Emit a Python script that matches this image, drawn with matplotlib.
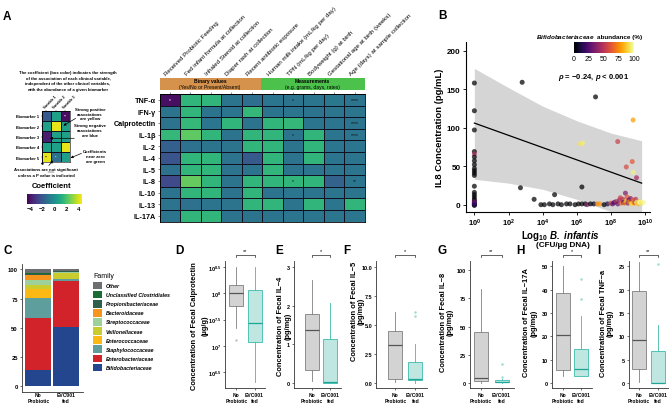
import numpy as np
import matplotlib
matplotlib.use('Agg')
import matplotlib.pyplot as plt
from matplotlib.colors import Normalize
from matplotlib.patches import Rectangle

plt.rcParams['font.family'] = ['Liberation Sans', 'DejaVu Sans']
plt.rcParams['mathtext.fontset'] = 'custom'
plt.rcParams['mathtext.rm'] = 'Liberation Sans'
plt.rcParams['mathtext.bf'] = 'Liberation Sans:bold'
plt.rcParams['mathtext.it'] = 'Liberation Sans:italic'
plt.rcParams['mathtext.bfit'] = 'Liberation Sans:italic:bold'

W, H = 669, 406

# ---------------- panel A data ----------------
hm_cols = ['Received Probiotic Feeding', 'Fed infant formula at collection',
           'Inhaled Steroid at collection', 'Diaper rash at collection',
           'Recent antibiotic exposure', 'Human milk intake (mL/kg per day)',
           'TPN (mL/kg per day)', 'Bodyweight (g) at birth',
           'Gestational age at birth (weeks)', 'Age (days) at sample collection']
hm_rows = ['TNF-α', 'IFN-γ', 'Calprotectin', 'IL-1β', 'IL-2', 'IL-4',
           'IL-5', 'IL-8', 'IL-10', 'IL-13', 'IL-17A']
hm_coef = [
    [-4.2, 1.4, 1.4, -1.1, -1.3, -1.0, -1.1, -1.0, -0.9, -1.0],
    [-1.1, 1.4, -1.1, -1.0, 1.5, -1.1, -1.0, -1.1, -1.0, -1.0],
    [-1.1, 1.5, -1.0, 1.4, -1.1, 1.4, 1.5, -1.0, -1.0, -1.0],
    [1.5, 2.3, 1.4, -1.1, 1.4, 1.4, -1.1, 1.4, -1.0, -1.0],
    [-1.8, -1.2, -1.1, -1.1, 1.4, 1.4, -1.1, 1.4, -1.0, -1.0],
    [-2.2, 1.4, 1.4, -1.1, -2.0, 1.4, -1.1, 1.4, -1.0, -1.0],
    [-1.2, 1.4, 1.4, -1.1, -1.1, 1.4, -1.1, -1.0, -1.0, -1.0],
    [-2.5, 2.4, 1.4, -1.1, 1.4, 1.4, 1.4, 1.4, -1.7, -1.0],
    [-1.1, 1.4, 1.4, -1.1, 1.4, -1.1, -1.0, -1.0, -1.0, -1.0],
    [-1.1, -1.2, -1.1, -1.1, 1.4, 1.4, -1.1, 1.4, -1.0, 1.4],
    [-1.1, 1.4, 1.4, -1.1, -1.1, -1.1, -1.0, -1.0, -1.0, -1.0],
]
hm_sig = [(0, 0, '*'), (0, 6, '*'), (0, 9, '****'), (2, 9, '****'),
          (3, 6, '*'), (3, 9, '****'), (7, 6, '*'), (7, 9, '**')]

ex_rows = ['Biomarker 1', 'Biomarker 2', 'Biomarker 3', 'Biomarker 4', 'Biomarker 5']
ex_cols = ['Variable 1', 'Variable 2', 'Variable 3']
ex_coef = [[-2.0, 0.6, -4.2],
           [0.6, 4.2, 0.6],
           [-3.8, 0.6, 0.6],
           [0.6, 0.6, 4.2],
           [4.2, -1.2, 0.5]]
ex_sig = [(0, 2, '**'), (4, 0, '**'), (4, 1, '*')]

# ---------------- panel B data ----------------
b_logx = [0, 0, 0, 0, 0, 0, 0, 0, 0, 0, 0, 0, 0, 0, 0, 0, 0, 0, 0, 0, 0, 0, 0, 0, 0,
          2.8, 2.7, 3.5, 4.7, 6.3, 7.1, 6.2, 6.35, 8.4, 9.3, 9.25, 8.9, 9.3, 9.5, 8.85,
          3.9, 4.1, 4.4, 4.6, 4.9, 5.1, 5.4, 5.6, 5.9, 6.1, 6.3, 6.5, 6.6, 6.8, 7.0,
          7.2, 7.35, 7.6, 7.8, 8.0, 8.1, 8.2, 8.3, 8.4, 8.5, 8.55, 8.6, 8.7, 8.75,
          8.8, 8.9, 8.95, 9.0, 9.05, 9.1, 9.15, 9.2, 9.3, 9.35, 9.4, 9.45, 9.5, 9.6,
          9.65, 9.7, 9.8, 9.9]
b_il8 = [158, 122, 97, 69, 66, 62, 57, 52, 47, 44, 41, 38, 24, 16, 13, 10, 7, 5, 3, 1, 0, -1, 2, 4, 0,
         159, 22, 7, 13, 23, 140, 79, 80, 82, 110, 56, 49, 42, 35, 15,
         0, 0, 1, 0, 1, 0, 1, 1, 0, 1, 1, 1, 0, 1, 1,
         1, 1, 0, 1, 2, 1, 3, 4, 1, 6, 9, 2, 7, 3,
         2, 5, 10, 2, 6, 4, 8, 1, 6, 2, 3, 7, 3, 1,
         4, 3, 2, 3]
b_abund = [0, 0, 0, 0, 45, 0, 0, 0, 0, 0, 0, 0, 0, 0, 0, 0, 0, 0, 0, 0, 0, 0, 22, 30, 15,
           0, 0, 0, 0, 0, 0, 92, 95, 55, 78, 62, 58, 96, 45, 35,
           0, 0, 0, 0, 0, 0, 0, 0, 0, 0, 0, 0, 35, 0, 5,
           72, 78, 0, 12, 60, 25, 20, 45, 30, 40, 55, 65, 50, 20,
           70, 85, 62, 40, 30, 75, 35, 90, 65, 80, 55, 50, 95, 85,
           88, 100, 92, 98]
fit_x = [0, 9.8]
fit_y = [106, 28]
band_x = [0, 2, 4, 6, 8, 9.8]
band_hi = [177, 152, 128, 109, 93, 83]
band_lo = [33, 28, 20, 7, -9, -27]

# ---------------- panel C data ----------------
families = ['Bifidobacteriaceae', 'Enterobacteriaceae', 'Staphylococcaceae',
            'Enterococcaceae', 'Veillonellaceae', 'Streptococcaceae',
            'Bacteroidaceae', 'Propionibacteriaceae', 'Unclassified Clostridiales', 'Other']
fam_colors = ['#24468e', '#d2232a', '#5e9e9c', '#fdb913', '#c9cb2e', '#9dd09a',
              '#f7941d', '#2f5e4b', '#1b6b35', '#6d6e71']
no_probiotic = [13.5, 44.5, 17.5, 8.0, 3.0, 4.0, 4.5, 0.8, 0.7, 3.5]
evc001_fed = [51.0, 39.2, 1.3, 0.5, 4.5, 1.0, 0.3, 0.7, 0.5, 1.0]
group_lines = [('No', 'Probiotic'), ('EVC001', 'fed')]

# ---------------- panels D-I data (whislo, q1, med, q3, whishi) ----------------
d_np, d_np_out = [7.34, 7.75, 8.0, 8.16, 8.5], [7.11]
d_evc, d_evc_out = [6.31, 7.07, 7.44, 8.07, 8.5], []
e_np, e_np_out = [0.04, 0.34, 1.37, 1.79, 2.66], []
e_evc, e_evc_out = [0.0, 0.0, 0.02, 1.14, 2.07], []
f_np, f_np_out = [0.05, 0.35, 3.28, 4.47, 6.1], []
f_evc, f_evc_out = [0.0, 0.29, 0.35, 1.79, 3.37], [6.1, 5.8]
g_np, g_np_out = [0.3, 2.3, 4.4, 45.5, 83.0], []
g_evc, g_evc_out = [0.2, 0.8, 1.5, 2.7, 3.6], [17.0, 5.6]
h_np, h_np_out = [2.9, 5.6, 20.6, 38.6, 50.0], []
h_evc, h_evc_out = [2.9, 2.9, 6.0, 14.7, 28.6], [44.6, 36.0]
i_np, i_np_out = [0.15, 3.0, 9.3, 19.8, 26.0], []
i_evc, i_evc_out = [0.0, 0.0, 0.1, 6.8, 12.4], [25.5]

fig = plt.figure(figsize=(W / 100, H / 100), dpi=100)


def box(x0, y0, x1, y1):
    return [x0 / W, 1 - y1 / H, (x1 - x0) / W, (y1 - y0) / H]


ov = fig.add_axes([0, 0, 1, 1])
ov.set_xlim(0, W)
ov.set_ylim(H, 0)
ov.axis('off')
ov.set_zorder(10)

norm_c = Normalize(-4.55, 4.55)


def group_labels(ax):
    # two-line group names under each box / bar, one text per line
    for k, (top, bottom) in enumerate(group_lines):
        xd = ax.transData.transform((k + 1, 0))[0]
        xp = xd * 100 / fig.dpi
        ov.text(xp, 396, top, ha='center', va='center', fontsize=3.6, fontweight='bold')
        ov.text(xp, 401.7, bottom, ha='center', va='center', fontsize=3.6, fontweight='bold')


# ---------------- A: main heatmap ----------------
hx0, hx1, hy0, hy1 = 159.5, 365, 95, 222.5
ax_h = fig.add_axes(box(hx0, hy0, hx1, hy1))
ax_h.pcolormesh(np.array(hm_coef), cmap='viridis', norm=norm_c,
                edgecolors='#111122', linewidth=0.6)
ax_h.set_xlim(0, len(hm_cols))
ax_h.set_ylim(len(hm_rows), 0)
ax_h.set_yticks(np.arange(len(hm_rows)) + 0.5)
ax_h.set_yticklabels(hm_rows, fontsize=5.2, fontweight='bold')
ax_h.xaxis.tick_top()
ax_h.set_xticks(np.arange(len(hm_cols)) + 0.5)
ax_h.set_xticklabels([])
ax_h.tick_params(length=1.5, width=0.4, pad=1.2, color='#333333')
for s in ax_h.spines.values():
    s.set_linewidth(0.6)
for r, c, txt in hm_sig:
    ax_h.text(c + 0.5, r + 0.5, txt, ha='center', va='center', fontsize=3.6,
              color='white' if hm_coef[r][c] < -3 else '#111111')

cw = (hx1 - hx0) / len(hm_cols)
for i, lab in enumerate(hm_cols):
    ov.text(hx0 + cw * (i + 0.5) - 3, 77, lab, rotation=45, rotation_mode='anchor',
            ha='left', va='bottom', fontsize=4.4)

ov.add_patch(Rectangle((159.5, 79), 101.2, 12, color='#d4924c', lw=0))
ov.add_patch(Rectangle((260.7, 79), 104.3, 12, color='#4cc14c', lw=0))
ov.text(210, 81.8, 'Binary values', ha='center', va='center', fontsize=3.6, fontweight='bold')
ov.text(210, 87.6, '(Yes/No or Present/Absent)', ha='center', va='center', fontsize=3.6)
ov.text(312.5, 81.8, 'Measurements', ha='center', va='center', fontsize=3.6, fontweight='bold')
ov.text(312.5, 87.6, '(e.g. grams, days, rates)', ha='center', va='center', fontsize=3.6)

# ---------------- A: explanatory mini heatmap ----------------
ov.text(3, 17, 'A', fontsize=8.5, fontweight='bold', ha='left', va='center')
intro = ['The coefficient (box color) indicates the strength',
         'of the association of each clinical variable,',
         'independent of the other clinical variables,',
         'with the abundance of a given biomarker']
for k, line in enumerate(intro):
    ov.text(68, 73.3 + 5.6 * k, line, ha='center', va='center', fontsize=3.1, fontweight='bold')

ax_e = fig.add_axes(box(41.7, 111.7, 70, 163.3))
ax_e.pcolormesh(np.array(ex_coef), cmap='viridis', norm=norm_c,
                edgecolors='#111122', linewidth=0.4)
ax_e.set_xlim(0, 3)
ax_e.set_ylim(5, 0)
ax_e.set_yticks(np.arange(5) + 0.5)
ax_e.set_yticklabels(ex_rows, fontsize=2.9, fontweight='bold')
ax_e.xaxis.tick_top()
ax_e.set_xticks(np.arange(3) + 0.5)
ax_e.set_xticklabels([])
ax_e.tick_params(length=1, width=0.3, pad=1)
for s in ax_e.spines.values():
    s.set_linewidth(0.4)
for r, c, txt in ex_sig:
    ax_e.text(c + 0.5, r + 0.5, txt, ha='center', va='center', fontsize=2.8,
              color='white' if ex_coef[r][c] < 0 else '#111111')
for i, lab in enumerate(ex_cols):
    ov.text(41.7 + 9.43 * (i + 0.5) - 1, 110, lab, rotation=45, rotation_mode='anchor',
            ha='left', va='bottom', fontsize=2.5, fontweight='bold')

ann_kw = dict(ha='center', va='center', fontsize=3.1, fontweight='bold', linespacing=1.2)
arr_kw = dict(arrowstyle='-|>', lw=0.5, color='black', mutation_scale=3.5)
ov.text(90, 114.5, 'Strong positive\nassociations\nare yellow', **ann_kw)
ov.annotate('', xy=(61, 128), xytext=(78, 118), arrowprops=arr_kw)
ov.text(90, 131, 'Strong negative\nassociations\nare blue', **ann_kw)
ov.annotate('', xy=(47, 139.3), xytext=(77, 139.3), arrowprops=arr_kw)
ov.text(95, 157, 'Coefficients\nnear zero\nare green', **ann_kw)
ov.annotate('', xy=(68, 160), xytext=(84, 153.3), arrowprops=arr_kw)
ov.text(46, 170.5, 'Associations are not significant', **ann_kw)
ov.text(46, 176, 'unless a P value is indicated', **ann_kw)
ov.plot([47.6, 54.0], [172.6, 172.6], color='black', lw=0.3)
ov.annotate('', xy=(43, 159.5), xytext=(42, 168.5), arrowprops=arr_kw)
ov.annotate('', xy=(55, 159.5), xytext=(47, 168.5), arrowprops=arr_kw)

ov.text(52, 186.7, 'Coefficient', ha='center', va='center', fontsize=5.5, fontweight='bold')
ax_cb1 = fig.add_axes(box(26.7, 195, 81.7, 205))
ax_cb1.imshow(np.linspace(-4.55, 4.55, 256)[None, :], aspect='auto', cmap='viridis',
              extent=[-4.55, 4.55, 0, 1])
ax_cb1.set_yticks([])
ax_cb1.set_xticks([-4, -2, 0, 2, 4])
ax_cb1.set_xticklabels(['−4', '−2', '0', '2', '4'], fontsize=4.3, fontweight='bold')
ax_cb1.tick_params(axis='x', length=0, pad=1.5)
for s in ax_cb1.spines.values():
    s.set_visible(False)

# ---------------- B: scatter ----------------
ov.text(438, 16, 'B', fontsize=8.5, fontweight='bold', ha='left', va='center')
ax_b = fig.add_axes(box(466, 43, 650, 213))
ax_b.fill_between(10.0 ** np.array(band_x), band_lo, band_hi, color='#d5d5d5', lw=0, zorder=1)
ax_b.plot(10.0 ** np.array(fit_x), fit_y, color='black', lw=0.9, zorder=2)
ax_b.scatter(10.0 ** np.array(b_logx), b_il8, c=b_abund, cmap='inferno',
             norm=Normalize(0, 100), s=13, alpha=0.72, lw=0, zorder=3)
ax_b.set_xscale('log')
ax_b.set_xlim(10 ** -0.49, 10 ** 10.29)
ax_b.set_ylim(-9.5, 211.3)
ax_b.minorticks_off()
ax_b.set_xticks([10.0 ** k for k in range(0, 11, 2)])
ax_b.set_xticklabels([r'$\mathbf{10^{%d}}$' % k for k in range(0, 11, 2)], fontsize=5.4)
ax_b.set_yticks([0, 50, 100, 150, 200])
ax_b.set_yticklabels(['0', '50', '100', '150', '200'], fontsize=5.8, fontweight='bold')
ax_b.tick_params(length=2.5, width=0.6, pad=1.5)
ax_b.tick_params(axis='x', pad=0.6)
for s in ['top', 'right']:
    ax_b.spines[s].set_visible(False)
for s in ['left', 'bottom']:
    ax_b.spines[s].set_linewidth(0.8)
ov.text(440, 127.5, 'IL8 Concentration (pg/mL)', rotation=90, ha='center', va='center',
        fontsize=6.8, fontweight='bold')
ov.text(560, 236.5, r'Log$_{\mathbf{10}}$ $\mathbfit{B.\ infantis}$', ha='center', va='center',
        fontsize=7, fontweight='bold')
ov.text(563, 246, '(CFU/µg DNA)', ha='center', va='center', fontsize=5.9, fontweight='bold')
ov.text(595, 37.3, r'$\mathbfit{Bifidobacteriaceae}$', ha='right', va='center', fontsize=4.6)
ov.text(597, 37.3, 'abundance (%)', ha='left', va='center', fontsize=4.6, fontweight='bold')
ov.text(593.5, 77.3, r'$\mathbfit{\rho}$ = −0.24, $\mathbfit{p}$ < 0.001', ha='center',
        va='center', fontsize=5.5, fontweight='bold')
ax_cb2 = fig.add_axes(box(574, 43, 634, 54))
ax_cb2.imshow(np.linspace(0, 100, 256)[None, :], aspect='auto', cmap='inferno',
              extent=[0, 100, 0, 1])
ax_cb2.set_yticks([])
ax_cb2.set_xticks([0, 25, 50, 75, 100])
ax_cb2.set_xticklabels(['0', '25', '50', '75', '100'], fontsize=5)
ax_cb2.tick_params(axis='x', length=0, pad=1.5)
for s in ax_cb2.spines.values():
    s.set_visible(False)

# ---------------- C: stacked bars ----------------
ov.text(3, 250.7, 'C', fontsize=8.5, fontweight='bold', ha='left', va='center')
ax_c = fig.add_axes(box(21.7, 264.5, 82.6, 392.5))
bottoms = np.zeros(2)
for fam, col, a, b in zip(families, fam_colors, no_probiotic, evc001_fed):
    ax_c.bar([1, 2], [a, b], bottom=bottoms, width=0.93, color=col, lw=0)
    bottoms += np.array([a, b])
ax_c.set_xlim(0.4, 2.6)
ax_c.set_ylim(-4.5, 105)
ax_c.set_yticks([0, 25, 50, 75, 100])
ax_c.set_yticklabels(['0', '25', '50', '75', '100'], fontsize=4.2, fontweight='bold')
ax_c.set_xticks([1, 2])
ax_c.set_xticklabels([])
ax_c.tick_params(length=1.5, width=0.5, pad=1.2, color='#333333')
for s in ['top', 'right']:
    ax_c.spines[s].set_visible(False)
for s in ['left', 'bottom']:
    ax_c.spines[s].set_linewidth(0.6)
    ax_c.spines[s].set_color('#333333')
group_labels(ax_c)

ov.text(93, 276.7, 'Family', ha='left', va='center', fontsize=5)
for k in range(len(families)):
    j = len(families) - 1 - k
    yc = 286.7 + 9.07 * k
    ov.add_patch(Rectangle((93.3, yc - 3.7), 8.4, 7.4, color=fam_colors[j], lw=0))
    ov.text(106, yc, families[j], ha='left', va='center', fontsize=3.8,
            fontstyle='italic', fontweight='bold')

# ---------------- D-I: box plots ----------------
panels = [
    dict(tag='D', tx=175, l1='Concentration of Fecal Calprotectin', l2='(µg/g)', lx=(195, 205),
         ly=326, left=225, c=(236.3, 254.5), ref=(8.5, 268, 52.65), ticks=[6.5, 7, 7.5, 8, 8.5],
         tl=[r'$\mathbf{10^{6.5}}$', r'$\mathbf{10^{7}}$', r'$\mathbf{10^{7.5}}$',
             r'$\mathbf{10^{8}}$', r'$\mathbf{10^{8.5}}$'],
         np_=(d_np, d_np_out), evc=(d_evc, d_evc_out), sig='**'),
    dict(tag='E', tx=275, l1='Concentration of Fecal IL−4', l2='(pg/mg)', lx=(281, 288.5),
         ly=326, left=293.5, c=(312.2, 330.3), ref=(0, 384, 38.6), ticks=[0, 1, 2, 3],
         tl=['0', '1', '2', '3'], np_=(e_np, e_np_out), evc=(e_evc, e_evc_out), sig='*'),
    dict(tag='F', tx=343, l1='Concentration of Fecal IL−5', l2='(pg/mg)', lx=(354.5, 361.5),
         ly=311, left=376, c=(395.3, 415.3), ref=(0, 384, 11.57), ticks=[0, 2.5, 5, 7.5, 10],
         tl=['0.0', '2.5', '5.0', '7.5', '10.0'], np_=(f_np, f_np_out), evc=(f_evc, f_evc_out),
         sig='*'),
    dict(tag='G', tx=437, l1='Concentration of Fecal IL−8', l2='(pg/mg)', lx=(443.3, 450.5),
         ly=322, left=470, c=(481.2, 501.5), ref=(0, 384.3, 1.132), ticks=[0, 25, 50, 75, 100],
         tl=['0', '25', '50', '75', '100'], np_=(g_np, g_np_out), evc=(g_evc, g_evc_out),
         sig='**'),
    dict(tag='H', tx=516, l1='Concentration of Fecal IL−17A', l2='(pg/mg)', lx=(526.7, 534.5),
         ly=323, left=552, c=(562.5, 580.8), ref=(0, 384, 2.333), ticks=[0, 10, 20, 30, 40, 50],
         tl=['0', '10', '20', '30', '40', '50'], np_=(h_np, h_np_out), evc=(h_evc, h_evc_out),
         sig='*'),
    dict(tag='I', tx=597, l1='Concentration of Fecal TNF−a', l2='(pg/mg)', lx=(603.3, 610.5),
         ly=323, left=629, c=(639, 658), ref=(0, 384, 4.667), ticks=[0, 5, 10, 15, 20, 25],
         tl=['0', '5', '10', '15', '20', '25'], np_=(i_np, i_np_out), evc=(i_evc, i_evc_out),
         sig='**'),
]

top_px, bot_px = 262, 388.5
for p in panels:
    c1, c2 = p['c']
    u = c2 - c1
    x_lo = 1 - (c1 - p['left']) / u
    right = c2 + 0.6 * u
    ax = fig.add_axes(box(p['left'], top_px, right, bot_px))
    v0, p0, sc = p['ref']
    ax.set_ylim(v0 + (p0 - bot_px) / sc, v0 + (p0 - top_px) / sc)
    ax.set_xlim(x_lo, 2.6)
    stats = []
    for (st, out), lab in [(p['np_'], 'np'), (p['evc'], 'evc')]:
        stats.append(dict(whislo=st[0], q1=st[1], med=st[2], q3=st[3], whishi=st[4],
                          fliers=out, label=lab))
    styles = [('#d3d3d3', '#7f7f7f', '#555555', '#c4c4c4'),
              ('#bfe6e0', '#3bbcab', '#1fa595', '#9fdcd3')]
    for k, (st, (fc, ec, mc, oc)) in enumerate(zip(stats, styles)):
        ax.bxp([st], positions=[k + 1], widths=14 / u, patch_artist=True,
               boxprops=dict(facecolor=fc, edgecolor=ec, lw=0.6),
               whiskerprops=dict(color=ec, lw=0.6), capprops=dict(lw=0),
               medianprops=dict(color=mc, lw=0.9),
               flierprops=dict(marker='o', markersize=1.8, markerfacecolor=oc,
                               markeredgecolor='none'))
    ax.set_yticks(p['ticks'])
    ax.set_yticklabels(p['tl'], fontsize=4.0, fontweight='bold')
    ax.set_xticks([1, 2])
    ax.set_xticklabels([])
    ax.tick_params(length=1.5, width=0.5, pad=1.2, color='#333333')
    for s in ['top', 'right']:
        ax.spines[s].set_visible(False)
    for s in ['left', 'bottom']:
        ax.spines[s].set_linewidth(0.6)
        ax.spines[s].set_color('#333333')
    group_labels(ax)
    ov.text(p['tx'], 250.7, p['tag'], fontsize=8.5, fontweight='bold', ha='left', va='center')
    ov.text(p['lx'][0], p['ly'], p['l1'], rotation=90, ha='center', va='center',
            fontsize=5.4, fontweight='bold')
    ov.text(p['lx'][1], p['ly'], p['l2'], rotation=90, ha='center', va='center',
            fontsize=5.4, fontweight='bold')
    ov.plot([c1, c1, c2, c2], [258, 255.7, 255.7, 258], color='#222222', lw=0.5)
    ov.text((c1 + c2) / 2, 254.5, p['sig'], ha='center', va='bottom', fontsize=4)

fig.savefig('out.png', dpi=100)
